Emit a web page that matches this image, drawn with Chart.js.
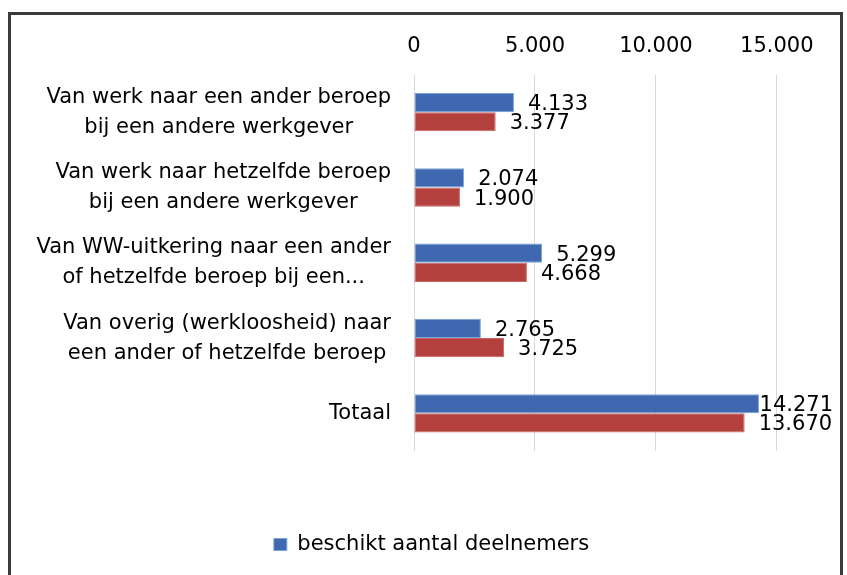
<!DOCTYPE html>
<html>
<head>
<meta charset="utf-8">
<script src="https://cdn.jsdelivr.net/npm/chart.js@4/dist/chart.umd.min.js"></script>
<style>
html,body{margin:0;padding:0;background:#fff;}
#wrap{position:absolute;left:0;top:0;width:847px;height:575px;}
</style>
</head>
<body>
<div id="wrap"><canvas id="c" width="847" height="575"></canvas></div>
<script>
const categories = [
  ["Van werk naar een ander beroep", "bij een andere werkgever"],
  ["Van werk naar hetzelfde beroep", "bij een andere werkgever"],
  ["Van WW-uitkering naar een ander", "of hetzelfde beroep bij een..."],
  ["Van overig (werkloosheid) naar", "een ander of hetzelfde beroep"],
  ["Totaal"]
];
const seriesNames = ["beschikt aantal deelnemers", "gerealiseerd aantal deelnemers"];
const beschikt = [4133, 2074, 5299, 2765, 14271];
const gerealiseerd = [3377, 1900, 4668, 3725, 13670];
const xTicks = [0, 5000, 10000, 15000];

const FONT = "'DejaVu Sans', Verdana, sans-serif";
const fmt = v => v.toLocaleString('nl-NL');

const borderPlugin = {
  id: 'frame',
  afterLayout(chart) {
    if (chart.legend) {
      chart.legend.left = 62;
    }
  },
  afterDraw(chart) {
    const ctx = chart.ctx;
    ctx.save();
    ctx.strokeStyle = '#3a3a3a';
    ctx.lineWidth = 3;
    ctx.strokeRect(9.5, 13.5, 832, 600);
    ctx.restore();
  }
};

const catLabelPlugin = {
  id: 'catLabels',
  afterDraw(chart) {
    const ctx = chart.ctx;
    const ys = chart.scales.y;
    ctx.save();
    ctx.font = "21px " + FONT;
    ctx.fillStyle = '#000';
    ctx.textAlign = 'center';
    ctx.textBaseline = 'middle';
    const rightEdge = 391;
    const lh = 30;
    categories.forEach((lines, i) => {
      const yc = ys.getPixelForValue(i);
      const w = Math.max(...lines.map(l => ctx.measureText(l).width));
      const cx = rightEdge - w / 2;
      const y0 = yc - (lines.length - 1) * lh / 2;
      lines.forEach((l, k) => ctx.fillText(l, cx, y0 + k * lh));
    });
    ctx.restore();
  }
};

const valueLabelPlugin = {
  id: 'valueLabels',
  afterDatasetsDraw(chart) {
    const ctx = chart.ctx;
    ctx.save();
    ctx.font = "21px " + FONT;
    ctx.fillStyle = '#000';
    ctx.textAlign = 'left';
    ctx.textBaseline = 'middle';
    chart.data.datasets.forEach((ds, di) => {
      const meta = chart.getDatasetMeta(di);
      meta.data.forEach((bar, i) => {
        const txt = fmt(ds.data[i]);
        const w = ctx.measureText(txt).width;
        let x = bar.x + 14;
        if (x + w > 833) x = 833 - w;
        ctx.fillText(txt, x, bar.y + 2);
      });
    });
    ctx.restore();
  }
};

new Chart(document.getElementById('c'), {
  type: 'bar',
  data: {
    labels: categories,
    datasets: [
      {
        label: seriesNames[0],
        data: beschikt,
        backgroundColor: '#3f68b0',
        borderColor: '#7aa3e0',
        borderWidth: 1,
        borderSkipped: false
      },
      {
        label: seriesNames[1],
        data: gerealiseerd,
        backgroundColor: '#b3403d',
        borderColor: '#c96663',
        borderWidth: 1,
        borderSkipped: false
      }
    ]
  },
  options: {
    indexAxis: 'y',
    responsive: false,
    animation: false,
    devicePixelRatio: 1,
    layout: { padding: { left: 0, right: 46, top: 20, bottom: 10 } },
    datasets: { bar: { barPercentage: 1, categoryPercentage: 0.51 } },
    scales: {
      x: {
        position: 'top',
        min: 0,
        max: 16000,
        afterBuildTicks: s => { s.ticks = xTicks.map(v => ({ value: v })); },
        afterFit: s => { s.height = 54.5; },
        ticks: {
          font: { family: FONT, size: 21 },
          color: '#000',
          padding: 15,
          maxRotation: 0,
          callback: v => fmt(v)
        },
        grid: { color: '#d9d9d9', lineWidth: 1, drawTicks: false },
        border: { display: false }
      },
      x2: {
        axis: 'x',
        position: 'bottom',
        display: true,
        min: 0, max: 16000,
        afterFit: s => { s.height = 73; },
        ticks: { display: false },
        grid: { display: false, drawTicks: false },
        border: { display: false }
      },
      y: {
        afterFit: s => { s.width = 414; },
        ticks: { display: false },
        grid: { display: false, drawTicks: false },
        border: { display: false }
      }
    },
    plugins: {
      legend: {
        position: 'bottom',
        labels: {
          filter: item => item.datasetIndex === 0,
          font: { family: FONT, size: 21 },
          color: '#000',
          boxWidth: 13,
          boxHeight: 12,
          padding: 10
        }
      },
      tooltip: { enabled: false }
    }
  },
  plugins: [borderPlugin, catLabelPlugin, valueLabelPlugin]
});
</script>
</body>
</html>
